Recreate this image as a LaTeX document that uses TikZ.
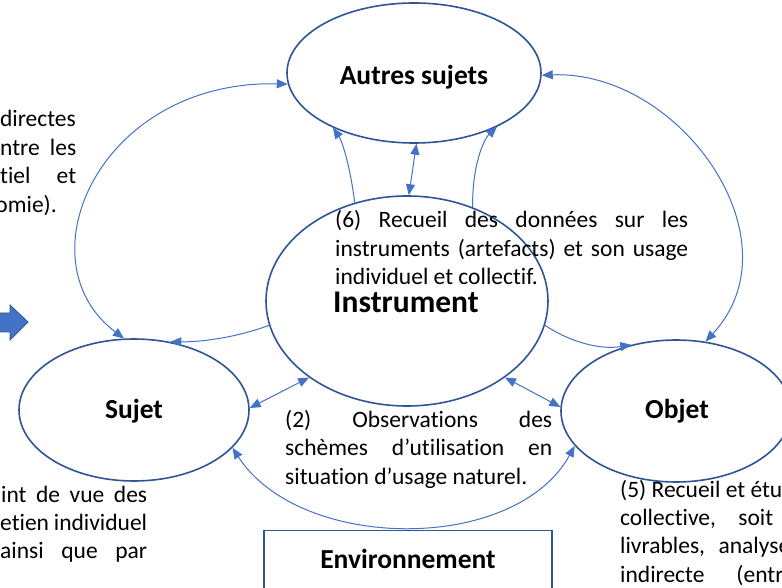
\documentclass[tikz,border=0pt]{standalone}
\usepackage{fontspec}
\setmainfont{Carlito}[Ligatures=NoCommon]
\usetikzlibrary{shapes.geometric,arrows.meta}
\definecolor{ebord}{HTML}{2F5597}
\definecolor{conn}{HTML}{4472C4}
\tikzset{
  ell/.style={ellipse, draw=ebord, line width=1.6pt, inner sep=0pt},
  lbl/.style={font=\fontsize{27.5}{33}\selectfont\bfseries, inner sep=0pt, anchor=base},
  cn/.style={draw=conn, line width=1pt, -{Triangle[length=11pt,width=9pt]}},
  cnb/.style={draw=conn, line width=1pt, {Triangle[length=11pt,width=9pt]}-{Triangle[length=11pt,width=9pt]}},
  body/.style={font=\fontsize{23.5}{29}\selectfont, inner sep=0pt},
}
\begin{document}
\begin{tikzpicture}[x=1pt,y=1pt]
\useasboundingbox (0,0) rectangle (782,587);
\clip (0,0) rectangle (782,587);
\fill[white] (0,0) rectangle (782,587);

% ellipses
\node[ell, minimum width=254pt, minimum height=140pt] (autres) at (414,514) {};
\node[ell, minimum width=282pt, minimum height=210pt] (inst) at (407,286) {};
\node[ell, minimum width=230pt, minimum height=142pt] (sujet) at (134,177) {};
\node[ell, minimum width=230pt, minimum height=142pt] (objet) at (676,176) {};
\node[lbl] (autreslbl) at (414,502) {Autres sujets};
\node[lbl] (sujetlbl) at (134,168) {Sujet};
\node[lbl] (objetlbl) at (677,168) {Objet};

% environment box
\node[draw=ebord, line width=1.4pt, minimum width=288pt, minimum height=80pt, anchor=north, inner sep=0pt] (env) at (408,57) {};
\node[lbl] (envlbl) at (408,19) {Environnement};

% block arrow
\fill[conn, draw=ebord, line width=0.8pt] (-5,274) -- (10,274) -- (10,282) -- (28,265) -- (10,247) -- (10,255) -- (-5,255) -- cycle;

% connectors
\draw[cnb] (sujet.98) .. controls (20,327) and (100,507) .. (autres.185);
\draw[cnb] (autres.-1) .. controls (680,517) and (800,347) .. (objet.67);
\draw[cn] (inst.118) .. controls (350,422) and (342,446) .. (autres.214);
\draw[cn] (inst.55) .. controls (472,422) and (484,448) .. (autres.-33);
\draw[cnb] (inst.89) -- (autres.-88);
\draw[cn] (inst.190) .. controls (235,249) and (200,245) .. (sujet.62);
\draw[cnb] (sujet.1) -- (inst.218);
\draw[cn] (inst.-10) .. controls (570,245) and (600,237) .. (objet.124);
\draw[cnb] (inst.-38) -- (objet.178);
\draw[cnb] (sujet.-21) .. controls (300,35) and (515,33) .. (objet.199);

% (6) block
\node[body, anchor=base west] (t6a) at (335,359) {\makebox[353pt][s]{(6) Recueil des données sur les}};
\node[body, anchor=base west] (t6b) at (335,330) {\makebox[353pt][s]{instruments (artefacts) et son usage}};
\node[body, anchor=base west] (t6c) at (335,302) {individuel et collectif.};
\node[font=\fontsize{31.5}{36}\selectfont\bfseries, inner sep=0pt, anchor=base west] (instlbl) at (333,274) {Instrument};

% (2) block
\node[body, anchor=base west] (t2a) at (285,160) {\makebox[267pt][s]{(2) Observations des}};
\node[body, anchor=base west] (t2b) at (285,131.5) {\makebox[267pt][s]{schèmes d’utilisation en}};
\node[body, anchor=base west] (t2c) at (285,103) {situation d’usage naturel.};

% top-left cut text
\node[body, anchor=base east] (tla) at (76,460) {directes};
\node[body, anchor=base west] (tlb) at (0,431.5) {\makebox[76pt][s]{ntre les}};
\node[body, anchor=base west] (tlc) at (0,403) {\makebox[76pt][s]{tiel et}};
\node[body, anchor=base east] (tld) at (57,374.5) {omie).};

% bottom-left cut text
\node[body, anchor=base west] (bla) at (1,85) {\makebox[146pt][s]{int de vue des}};
\node[body, anchor=base west] (blb) at (0,57) {\makebox[147pt][s]{etien individuel}};
\node[body, anchor=base west] (blc) at (0,29) {\makebox[147pt][s]{ainsi que par}};

% bottom-right cut text
\node[body, anchor=base west] (bra) at (620,90) {(5) Recueil et étu};
\node[body, anchor=base west] (brb) at (620,62) {\makebox[153pt][s]{collective, soit}};
\node[body, anchor=base west] (brc) at (620,34) {\makebox[170pt][s]{livrables, analyse}};
\node[body, anchor=base west] (brd) at (620,5) {indirecte\hspace{32pt}(entr};
\end{tikzpicture}
\end{document}
